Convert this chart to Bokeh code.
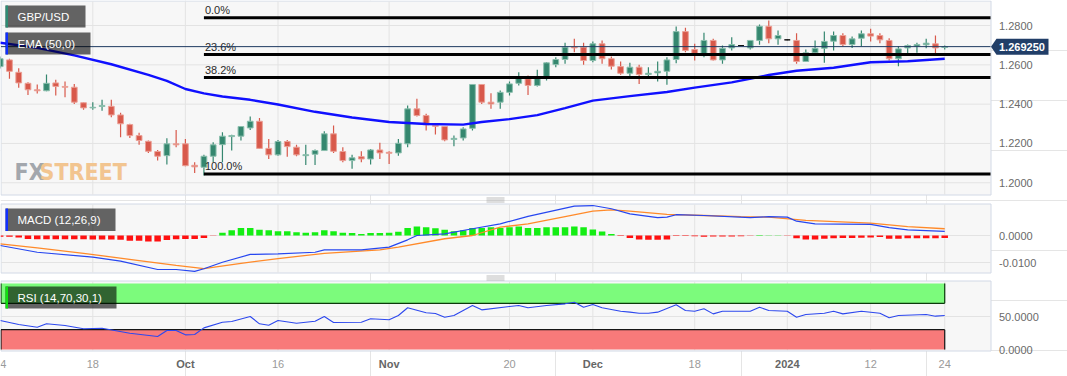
from bokeh.plotting import figure
from bokeh.models import Range1d
from bokeh.core.properties import value
from bokeh.embed import file_html
from bokeh.resources import INLINE

# ---------------- data ----------------
opens = [1.2591, 1.2625, 1.2562, 1.2506, 1.2473, 1.2468, 1.2508, 1.2490, 1.2486, 1.2407,
         1.2381, 1.2388, 1.2389, 1.2345, 1.2296, 1.2240, 1.2211, 1.2159, 1.2138, 1.2198,
         1.2198, 1.2089, 1.2079, 1.2135, 1.2194, 1.2235, 1.2237, 1.2279, 1.2313, 1.2175,
         1.2142, 1.2210, 1.2181, 1.2138, 1.2145, 1.2164, 1.2249, 1.2159, 1.2113, 1.2133,
         1.2121, 1.2167, 1.2155, 1.2152, 1.2198, 1.2376, 1.2342, 1.2291, 1.2286, 1.2220,
         1.2228, 1.2277, 1.2500, 1.2410, 1.2410, 1.2460, 1.2506, 1.2529, 1.2495, 1.2532,
         1.2601, 1.2627, 1.2691, 1.2690, 1.2622, 1.2707, 1.2631, 1.2591, 1.2557, 1.2588,
         1.2551, 1.2559, 1.2567, 1.2627, 1.2769, 1.2678, 1.2647, 1.2724, 1.2625, 1.2686,
         1.2698, 1.2686, 1.2724, 1.2796, 1.2732, 1.2727, 1.2724, 1.2617, 1.2661, 1.2684,
         1.2720, 1.2749, 1.2703, 1.2735, 1.2758, 1.2749, 1.2724, 1.2631, 1.2686, 1.2695,
         1.2702, 1.2707, 1.2688]
highs = [1.2642, 1.2631, 1.2583, 1.2511, 1.2500, 1.2551, 1.2524, 1.2515, 1.2503, 1.2408,
         1.2410, 1.2422, 1.2422, 1.2356, 1.2300, 1.2254, 1.2215, 1.2167, 1.2226, 1.2269,
         1.2223, 1.2104, 1.2143, 1.2206, 1.2257, 1.2244, 1.2289, 1.2337, 1.2330, 1.2223,
         1.2218, 1.2218, 1.2193, 1.2193, 1.2169, 1.2262, 1.2291, 1.2181, 1.2143, 1.2160,
         1.2172, 1.2203, 1.2160, 1.2223, 1.2393, 1.2427, 1.2351, 1.2295, 1.2288, 1.2240,
         1.2282, 1.2502, 1.2502, 1.2455, 1.2469, 1.2515, 1.2562, 1.2546, 1.2575, 1.2613,
         1.2639, 1.2712, 1.2732, 1.2712, 1.2719, 1.2724, 1.2642, 1.2617, 1.2610, 1.2600,
         1.2588, 1.2617, 1.2639, 1.2795, 1.2788, 1.2707, 1.2763, 1.2732, 1.2698, 1.2740,
         1.2700, 1.2725, 1.2805, 1.2825, 1.2775, 1.2729, 1.2761, 1.2678, 1.2724, 1.2769,
         1.2769, 1.2761, 1.2744, 1.2775, 1.2783, 1.2761, 1.2735, 1.2695, 1.2703, 1.2712,
         1.2732, 1.2749, 1.2698]
lows = [1.2581, 1.2529, 1.2483, 1.2447, 1.2454, 1.2466, 1.2444, 1.2435, 1.2401, 1.2372,
        1.2371, 1.2367, 1.2333, 1.2231, 1.2228, 1.2193, 1.2152, 1.2113, 1.2093, 1.2181,
        1.2084, 1.2050, 1.2037, 1.2104, 1.2104, 1.2164, 1.2215, 1.2269, 1.2173, 1.2121,
        1.2138, 1.2133, 1.2135, 1.2091, 1.2091, 1.2162, 1.2152, 1.2104, 1.2071, 1.2104,
        1.2093, 1.2121, 1.2096, 1.2138, 1.2181, 1.2337, 1.2266, 1.2245, 1.2211, 1.2186,
        1.2215, 1.2266, 1.2401, 1.2376, 1.2376, 1.2444, 1.2495, 1.2447, 1.2490, 1.2520,
        1.2588, 1.2605, 1.2664, 1.2600, 1.2613, 1.2605, 1.2576, 1.2549, 1.2542, 1.2503,
        1.2540, 1.2515, 1.2498, 1.2608, 1.2664, 1.2622, 1.2639, 1.2622, 1.2605, 1.2673,
        1.2696, 1.2678, 1.2702, 1.2710, 1.2702, 1.2725, 1.2605, 1.2615, 1.2652, 1.2610,
        1.2673, 1.2695, 1.2686, 1.2695, 1.2719, 1.2710, 1.2622, 1.2593, 1.2652, 1.2661,
        1.2684, 1.2652, 1.2678]
closes = [1.2631, 1.2567, 1.2508, 1.2473, 1.2468, 1.2506, 1.2490, 1.2486, 1.2410, 1.2381,
          1.2384, 1.2393, 1.2345, 1.2300, 1.2240, 1.2215, 1.2160, 1.2135, 1.2198, 1.2193,
          1.2087, 1.2081, 1.2135, 1.2193, 1.2237, 1.2240, 1.2286, 1.2313, 1.2175, 1.2142,
          1.2210, 1.2184, 1.2142, 1.2143, 1.2164, 1.2249, 1.2160, 1.2113, 1.2127, 1.2121,
          1.2167, 1.2152, 1.2150, 1.2201, 1.2376, 1.2342, 1.2295, 1.2287, 1.2218, 1.2226,
          1.2274, 1.2500, 1.2410, 1.2401, 1.2460, 1.2503, 1.2534, 1.2495, 1.2532, 1.2610,
          1.2627, 1.2690, 1.2686, 1.2622, 1.2707, 1.2631, 1.2593, 1.2557, 1.2588, 1.2551,
          1.2557, 1.2567, 1.2625, 1.2769, 1.2673, 1.2651, 1.2724, 1.2625, 1.2684, 1.2703,
          1.2698, 1.2724, 1.2796, 1.2732, 1.2749, 1.2727, 1.2617, 1.2661, 1.2684, 1.2719,
          1.2749, 1.2703, 1.2732, 1.2758, 1.2746, 1.2727, 1.2631, 1.2681, 1.2698, 1.2703,
          1.2710, 1.2686, 1.26925]

ema_idx = [0, 4, 8, 12, 16, 18, 20, 22, 24, 27, 30, 34, 38, 42, 46, 50, 52, 55, 58, 61,
           64, 68, 72, 75, 79, 83, 86, 90, 94, 98, 102]
ema_val = [1.2712, 1.2686, 1.2648, 1.2603, 1.2549, 1.2518, 1.2477, 1.2455, 1.2439, 1.2422,
           1.2398, 1.2361, 1.2332, 1.2309, 1.2299, 1.2296, 1.2309, 1.2324, 1.2344, 1.2380,
           1.2418, 1.2441, 1.2462, 1.2484, 1.2511, 1.2548, 1.2570, 1.2585, 1.2613, 1.2618,
           1.2631]

fib_levels = [1.2839, 1.2652, 1.2536, 1.2045]
fib_labels = ["0.0%", "23.6%", "38.2%", "100.0%"]
fib_start = 22

macd_idx = [0, 4, 10, 13, 17, 19, 21, 22, 24, 27, 30, 34, 35, 39, 42, 44, 45, 48, 51, 54,
            57, 62, 64, 66, 68, 71, 72, 73, 76, 81, 83, 85, 86, 88, 94, 96, 98, 102]
macd_val = [-0.0037, -0.0062, -0.0080, -0.0095, -0.0126, -0.0126, -0.0133, -0.0123, -0.0099,
            -0.0070, -0.0068, -0.0062, -0.0053, -0.0053, -0.0043, -0.0016, 0.0000, 0.0006,
            0.0025, 0.0043, 0.0071, 0.0109, 0.0111, 0.0099, 0.0080, 0.0066, 0.0068, 0.0077,
            0.0074, 0.0066, 0.0070, 0.0068, 0.0053, 0.0043, 0.0041, 0.0029, 0.0021, 0.0015]
signal_idx = [0, 4, 9, 15, 19, 22, 26, 30, 35, 41, 43, 48, 51, 54, 57, 61, 64, 66, 68, 72,
              76, 80, 83, 87, 94, 98, 102]
signal_val = [-0.0031, -0.0046, -0.0066, -0.0093, -0.0111, -0.0123, -0.0103, -0.0086, -0.0066,
              -0.0053, -0.0043, -0.0012, 0.0000, 0.0031, 0.0043, 0.0070, 0.0090, 0.0095, 0.0090,
              0.0078, 0.0074, 0.0070, 0.0068, 0.0056, 0.0046, 0.0033, 0.0025]
hist_val = [-0.0005, -0.0005, -0.0007, -0.0013, -0.0014, -0.0014, -0.0014, -0.0014, -0.0014, -0.0014,
            -0.0015, -0.0015, -0.0015, -0.0016, -0.0019, -0.0019, -0.0022, -0.0022, -0.0017, -0.0014,
            -0.0013, -0.0013, -0.0009, -0.0001, 0.0010, 0.0019, 0.0028, 0.0028, 0.0021, 0.0019,
            0.0016, 0.0016, 0.0012, 0.0010, 0.0012, 0.0019, 0.0016, 0.0010, 0.0009, 0.0006,
            0.0009, 0.0009, 0.0010, 0.0014, 0.0028, 0.0033, 0.0031, 0.0027, 0.0021, 0.0016,
            0.0019, 0.0028, 0.0028, 0.0031, 0.0028, 0.0031, 0.0033, 0.0028, 0.0028, 0.0031,
            0.0031, 0.0031, 0.0033, 0.0031, 0.0022, 0.0015, 0.0006, -0.0002, -0.0009, -0.0015,
            -0.0016, -0.0016, -0.0015, -0.0002, -0.0002, -0.0003, -0.0005, -0.0004, -0.0004, -0.0004,
            -0.0003, -0.0001, 0.0002, 0.0001, 0.0001, -0.0001, -0.0010, -0.0015, -0.0015, -0.0012,
            -0.0010, -0.0009, -0.0009, -0.0008, -0.0007, -0.0006, -0.0012, -0.0012, -0.0010, -0.0010,
            -0.0010, -0.0010, -0.0009]

rsi_idx = [0, 2, 4, 5, 7, 9, 11, 14, 17, 18, 19, 20, 21, 22, 24, 25, 27, 28, 29, 30,
           32, 34, 35, 36, 39, 40, 42, 43, 44, 46, 47, 48, 49, 51, 52, 55, 56, 57, 59, 61,
           62, 63, 64, 65, 67, 68, 69, 70, 71, 73, 74, 75, 76, 77, 78, 81, 82, 83, 85, 86,
           87, 89, 90, 91, 93, 95, 96, 97, 100, 101, 102]
rsi_val = [43.9, 37.9, 33.8, 38.9, 36.4, 31.4, 32.3, 24.7, 19.7, 28.8,
           28.8, 22.2, 22.7, 32.8, 41.4, 42.4, 50.0, 38.9, 36.8, 43.9,
           39.8, 42.9, 50.0, 40.9, 41.4, 46.5, 45.0, 51.5, 63.2, 55.6,
           54.5, 48.9, 51.5, 66.7, 60.1, 65.2, 66.7, 63.2, 66.7, 69.2,
           71.7, 64.1, 68.2, 63.2, 58.0, 56.6, 55.0, 55.0, 56.6, 67.7,
           59.1, 58.0, 61.7, 54.0, 58.0, 58.0, 64.1, 59.1, 58.0, 48.9,
           53.0, 55.0, 58.0, 54.0, 58.0, 55.0, 48.0, 51.5, 53.0, 50.5,
           51.5]
rsi_upper, rsi_lower = 70, 30

tick_idx = [0, 10, 20, 30, 42, 55, 64, 75, 85, 94, 102]
tick_lbl = ["4", "18", "Oct", "16", "Nov", "20", "Dec", "18", "2024", "12", "24"]
tick_bold = [False, False, True, False, True, False, True, False, True, False, False]

price_ticks = [1.28, 1.26, 1.24, 1.22, 1.20]
macd_ticks = [0.0, -0.01]
rsi_ticks = [50, 0]

# ---------------- layout constants (pixels) ----------------
W, H = 1067, 376
BAR_PX, BAR_X0 = 9.26, -0.3
PANEL_R = 990.0
PRICE_PX, PRICE_Y0, PRICE_REF = 1966.0, 25.0, 1.28
MACD_PX, MACD_Y0 = 2700.0, 235.0
RSI_PX, RSI_Y0 = 0.66, 349.0
FONT = value("Liberation Sans")


def idx_at(px):
    return (px - BAR_X0) / BAR_PX


p = figure(width=W, height=H, output_backend="svg", toolbar_location=None,
           x_range=Range1d(idx_at(0), idx_at(W)), y_range=Range1d(H, 0),
           x_axis_location=None, y_axis_location=None,
           min_border=0, min_border_left=0, min_border_right=0,
           min_border_top=0, min_border_bottom=0)
p.outline_line_color = None
p.background_fill_color = "white"
p.border_fill_color = "white"
p.extra_x_ranges = {"px": Range1d(0, W)}
p.extra_y_ranges = {
    "price": Range1d(PRICE_REF - (H - PRICE_Y0) / PRICE_PX, PRICE_REF + PRICE_Y0 / PRICE_PX),
    "macd": Range1d(-(H - MACD_Y0) / MACD_PX, MACD_Y0 / MACD_PX),
    "rsi": Range1d(-(H - RSI_Y0) / RSI_PX, RSI_Y0 / RSI_PX),
}

L_IDX, R_IDX = idx_at(0.5), idx_at(PANEL_R)
n = len(closes)
bar_idx = list(range(n))

# panels
panels = [(0.5, 194.5), (203.5, 272.5), (280.5, 350.5)]
p.quad(left=[0.5] * 3, right=[PANEL_R + 0.5] * 3, top=[a for a, b in panels],
       bottom=[b for a, b in panels], x_range_name="px",
       fill_color="#f7f7f7", line_color="#d2d9e6", line_width=1)

# vertical grid
gx, gy0, gy1 = [], [], []
for a, b in panels:
    for t in tick_idx[1:]:
        gx.append(t)
        gy0.append(a + 0.5)
        gy1.append(b - 0.5)
p.segment(x0=gx, x1=gx, y0=gy0, y1=gy1, line_color="#e3e3e3", line_width=1)

# horizontal grid
p.segment(x0=[L_IDX] * len(price_ticks), x1=[R_IDX] * len(price_ticks), y0=price_ticks,
          y1=price_ticks, y_range_name="price", line_color="#e3e3e3", line_width=1)
p.segment(x0=[L_IDX] * len(macd_ticks), x1=[R_IDX] * len(macd_ticks), y0=macd_ticks,
          y1=macd_ticks, y_range_name="macd", line_color="#e3e3e3", line_width=1)
p.segment(x0=[L_IDX], x1=[R_IDX], y0=[50], y1=[50], y_range_name="rsi",
          line_color="#e3e3e3", line_width=1)

# watermark
WM_FONT = value("Liberation Sans Narrow, DejaVu Sans Condensed, Liberation Sans")
p.text(x=[14], y=[171], text=["FX"], x_range_name="px", text_font=WM_FONT,
       text_font_size="23px", text_font_style="bold", text_color="#a3a7ad",
       text_baseline="alphabetic")
p.text(x=[39], y=[171], text=["STREET"], x_range_name="px", text_font=WM_FONT,
       text_font_size="23px", text_font_style="bold", text_color="#f2c590",
       text_baseline="alphabetic")

# candles
col = []
edge = []
for o, c in zip(opens, closes):
    if c > o:
        col.append("#35876f"); edge.append("#8cbfae")
    elif c < o:
        col.append("#d8594b"); edge.append("#eba197")
    else:
        col.append("#111111"); edge.append("#111111")
p.segment(x0=bar_idx, x1=bar_idx, y0=lows, y1=highs, line_color=col, line_width=1.2,
          y_range_name="price")
p.vbar(x=bar_idx, width=0.62, top=[max(o, c) for o, c in zip(opens, closes)],
       bottom=[min(o, c) for o, c in zip(opens, closes)], fill_color=col,
       line_color=edge, line_width=1, y_range_name="price")

# EMA
p.line(ema_idx, ema_val, line_color="#1010ff", line_width=2.4, y_range_name="price")

# fibonacci
p.segment(x0=[fib_start] * 4, x1=[R_IDX] * 4, y0=fib_levels, y1=fib_levels,
          line_color="black", line_width=3, y_range_name="price")
p.text(x=[fib_start] * 4, y=fib_levels, text=fib_labels, y_range_name="price",
       x_offset=1, y_offset=-1.5, text_baseline="bottom", text_align="left",
       text_font=FONT, text_font_size="11px", text_color="#2a2a2a")

# current price line
last = closes[-1]
p.segment(x0=[L_IDX], x1=[R_IDX], y0=[last], y1=[last], line_color="#1e3a60",
          line_width=1, y_range_name="price")

# MACD
p.vbar(x=bar_idx, width=0.7, top=hist_val, bottom=0,
       fill_color=["#14ee14" if h > 0 else "#ff1010" for h in hist_val],
       line_color=None, y_range_name="macd")
p.line(signal_idx, signal_val, line_color="#ff8a2a", line_width=1.3, y_range_name="macd")
p.line(macd_idx, macd_val, line_color="#2646f0", line_width=1.2, y_range_name="macd")

# RSI bands and line
band_r = bar_idx[-1]
p.quad(left=[L_IDX, L_IDX], right=[band_r, band_r], bottom=[rsi_upper, 0],
       top=[100, rsi_lower], y_range_name="rsi",
       fill_color=["#7cfb7c", "#f87a7a"], line_color=None)
p.segment(x0=[L_IDX, L_IDX], x1=[band_r, band_r], y0=[rsi_upper, rsi_lower],
          y1=[rsi_upper, rsi_lower], y_range_name="rsi",
          line_color=["#0b3a0b", "#151515"], line_width=1.2)
p.segment(x0=[band_r, band_r, L_IDX, L_IDX], x1=[band_r, band_r, L_IDX, L_IDX],
          y0=[rsi_upper, 0, rsi_upper, 0], y1=[100, rsi_lower, 100, rsi_lower],
          y_range_name="rsi", line_color=["#0b3a0b", "#151515", "#0b3a0b", "#151515"],
          line_width=1.2)
p.line(rsi_idx, rsi_val, line_color="#2d48ee", line_width=1.1, y_range_name="rsi")

# handles between panels
hy = [197.5, 199.5, 201.5, 275.5, 277.5, 279.5]
p.segment(x0=[486] * 6, x1=[504] * 6, y0=hy, y1=hy, x_range_name="px",
          line_color="#a0a0a0", line_width=0.7)

# legend boxes
box_txt = ["GBP/USD", "EMA (50,0)", "MACD (12,26,9)", "RSI (14,70,30,1)"]
box_r = [85, 90, 115, 116]
box_t = [5, 32, 208, 286]
box_b = [27, 54, 230.5, 308]
p.quad(left=[5] * 4, right=box_r, top=box_t, bottom=box_b, x_range_name="px",
       fill_color="black", fill_alpha=0.6, line_color=None)
p.quad(left=[5] * 4, right=[7.5] * 4, top=box_t, bottom=box_b, x_range_name="px",
       fill_color=["#2e8b74", "#1030ff", "#1030ff", "#10e010"], line_color=None)
p.text(x=[17] * 4, y=[(a + b) / 2 for a, b in zip(box_t, box_b)], text=box_txt,
       x_range_name="px", text_font=FONT, text_font_size="11.5px", text_color="white",
       text_baseline="middle", text_align="left")

# y axis labels (right)
p.text(x=[998.5] * len(price_ticks), y=price_ticks, text=[f"{v:.4f}" for v in price_ticks],
       x_range_name="px", y_range_name="price", text_font=FONT, text_font_size="11px",
       text_color="#6a6a6a", text_baseline="middle", text_align="left")
p.text(x=[998.5] * len(macd_ticks), y=macd_ticks, text=[f"{v:.4f}" for v in macd_ticks],
       x_range_name="px", y_range_name="macd", text_font=FONT, text_font_size="11px",
       text_color="#6a6a6a", text_baseline="middle", text_align="left")
p.text(x=[998.5] * len(rsi_ticks), y=rsi_ticks, text=[f"{v:.4f}" for v in rsi_ticks],
       x_range_name="px", y_range_name="rsi", text_font=FONT, text_font_size="11px",
       text_color="#6a6a6a", text_baseline="middle", text_align="left")

# price tag
hh = 8.0 / PRICE_PX
p.patch(x=[990.5, 996, 1048, 1048, 996], y=[last, last + hh, last + hh, last - hh, last - hh],
        x_range_name="px", y_range_name="price", fill_color="#213e68", line_color=None)
p.text(x=[998.5], y=[last], text=[f"{last:.6f}"], x_range_name="px", y_range_name="price",
       text_font=FONT, text_font_size="11px", text_font_style="bold", text_color="white",
       text_baseline="middle", text_align="left")

# x axis labels
reg = [(t, l) for t, l, b in zip(tick_idx, tick_lbl, tick_bold) if not b]
bld = [(t, l) for t, l, b in zip(tick_idx, tick_lbl, tick_bold) if b]
p.text(x=[reg[0][0]], y=[363], text=[reg[0][1]], text_font=FONT, text_font_size="11px",
       text_color="#9a9a9a", text_baseline="middle", text_align="left")
p.text(x=[t for t, l in reg[1:]], y=[363] * (len(reg) - 1), text=[l for t, l in reg[1:]],
       text_font=FONT, text_font_size="11px", text_color="#9a9a9a",
       text_baseline="middle", text_align="center")
p.text(x=[t for t, l in bld], y=[363] * len(bld), text=[l for t, l in bld],
       text_font=FONT, text_font_size="11px", text_font_style="bold", text_color="#666666",
       text_baseline="middle", text_align="center")

open("out.html", "w").write(file_html(p, INLINE))
